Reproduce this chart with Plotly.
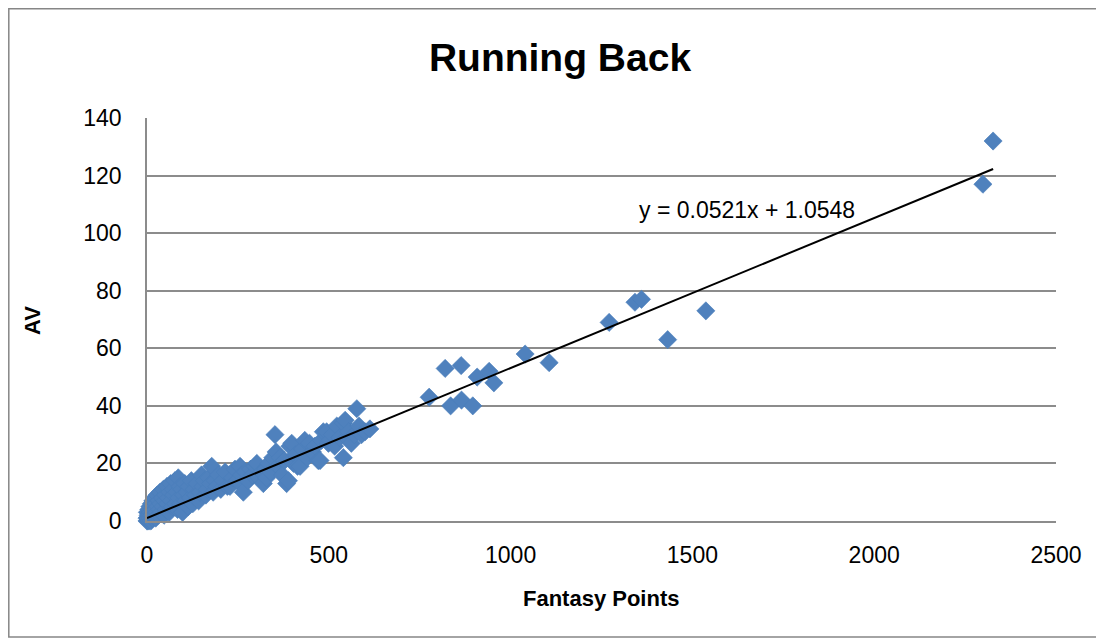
import plotly.graph_objects as go

# ---- data ----
fantasy_points = [
    0, 0, 1, 2, 3, 4, 5, 6, 7, 8, 9, 10, 11, 12, 13, 14, 15, 16, 18, 19,
    20, 21, 23, 24, 25, 27, 28, 30, 31, 33, 35, 36, 38, 40, 42, 44, 45, 47, 49, 51,
    53, 55, 57, 59, 61, 63, 65, 67, 70, 72, 74, 77, 79, 82, 84, 86, 88, 91, 93, 96,
    98, 101, 104, 107, 110, 113, 116, 119, 122, 126, 130, 134, 138, 142, 146, 150, 154, 158, 162, 166,
    170, 175, 178, 182, 187, 192, 197, 203, 209, 215, 221, 228, 235, 242, 248, 256, 260, 265, 271, 278,
    285, 290, 297, 302, 308, 315, 320, 326, 329, 335, 340, 346, 352, 355, 360, 366, 372, 378, 384, 389,
    393, 398, 403, 408, 414, 421, 427, 434, 440, 447, 455, 462, 471, 476, 480, 485, 494, 499, 503, 510,
    516, 522, 530, 540, 540, 545, 549, 555, 562, 570, 577, 583, 590, 600, 613,
    776, 820, 835, 864, 865, 896, 908, 941, 954, 1040, 1106, 1271, 1342, 1360, 1432, 1537, 2299, 2327,
]
av = [
    0, 1, 3, 0, 2, 1, 4, 0, 2, 5, 1, 3, 0, 6, 2, 4, 1, 7, 3, 5,
    2, 8, 4, 1, 6, 3, 9, 5, 2, 7, 4, 10, 6, 3, 8, 5, 11, 2, 7, 9,
    4, 12, 6, 8, 3, 10, 13, 7, 5, 11, 9, 14, 6, 10, 4, 15, 8, 12, 6, 11,
    3, 9, 13, 7, 10, 5, 12, 8, 14, 6, 11, 9, 13, 7, 10, 16, 12, 14, 9, 11,
    15, 13, 19, 10, 14, 12, 16, 11, 14, 17, 12, 12, 15, 18, 14, 19, 16, 10, 17, 14,
    18, 16, 19, 20, 15, 17, 13, 18, 15, 20, 17, 22, 30, 24, 19, 22, 16, 21, 13, 14,
    26, 27, 20, 23, 19, 19, 25, 28, 22, 27, 24, 26, 21, 21, 28, 31, 31, 27, 28, 30,
    26, 33, 29, 22, 34, 35, 29, 31, 27, 30, 39, 33, 30, 31, 32,
    43, 53, 40, 54, 42, 40, 50, 52, 48, 58, 55, 69, 76, 77, 63, 73, 117, 132,
]

# trendline coefficients shown on the chart
slope = 0.0521
intercept = 1.0548
equation_text = "y = 0.0521x + 1.0548"

x_ticks = [0, 500, 1000, 1500, 2000, 2500]
y_ticks = [0, 20, 40, 60, 80, 100, 120, 140]

chart_title = "Running Back"
x_title = "Fantasy Points"
y_title = "AV"

FONT = "Liberation Sans"
GRID = "#8c8c8c"

# the page body has an 8px margin; figure is sized/positioned to compensate
OFF = 8
W, H = 1104 - OFF, 644 - OFF
L, T, R, B = 147 - OFF, 118 - OFF, 48, 123
PW, PH = W - L - R, H - T - B


def px_x(page_x):
    return (page_x - OFF - L) / PW


def px_y(page_y):
    return (H - B - (page_y - OFF)) / PH


x_min, x_max = min(fantasy_points), max(fantasy_points)

fig = go.Figure()
fig.add_trace(go.Scatter(
    x=fantasy_points, y=av, mode="markers",
    marker=dict(symbol="diamond", size=14, color="#4F81BD",
                line=dict(width=0.6, color="#4A7EBB")),
    cliponaxis=False, showlegend=False, hoverinfo="x+y",
))
fig.add_trace(go.Scatter(
    x=[x_min, x_max], y=[slope * x_min + intercept, slope * x_max + intercept],
    mode="lines", line=dict(color="black", width=2), showlegend=False,
    cliponaxis=False,
))

fig.update_layout(
    width=W, height=H,
    margin=dict(l=L, r=R, t=T, b=B),
    paper_bgcolor="white", plot_bgcolor="white",
    font=dict(family=FONT, color="black"),
    title=dict(text="<b>" + chart_title + "</b>", x=px_x(560), xref="paper",
               xanchor="center", y=1 - (57 - OFF) / H, yref="container", yanchor="middle",
               font=dict(size=39, family=FONT, color="black")),
    xaxis=dict(range=[0, 2500], tickvals=x_ticks, ticktext=[str(v) for v in x_ticks],
               showgrid=False, zeroline=False, showline=True, linecolor=GRID, linewidth=1.5,
               ticks="", tickfont=dict(size=23, family=FONT, color="black"),
               ticklabelstandoff=13),
    yaxis=dict(range=[0, 140], tickvals=y_ticks, ticktext=[str(v) for v in y_ticks],
               showgrid=True, gridcolor=GRID, gridwidth=1.5, zeroline=False,
               showline=True, linecolor=GRID, linewidth=1.5,
               ticks="", tickfont=dict(size=23, family=FONT, color="black"),
               ticklabelstandoff=19),
)

fig.add_annotation(text="<b>" + x_title + "</b>", xref="paper", yref="paper",
                   x=px_x(601), y=px_y(598), showarrow=False,
                   xanchor="center", yanchor="middle",
                   font=dict(size=22, family=FONT, color="black"))
fig.add_annotation(text="<b>" + y_title + "</b>", xref="paper", yref="paper",
                   x=px_x(32), y=px_y(321), showarrow=False,
                   textangle=-90, xanchor="center", yanchor="middle",
                   font=dict(size=22, family=FONT, color="black"))
fig.add_annotation(text=equation_text, xref="x", yref="y",
                   x=1650, y=108, showarrow=False, xanchor="center", yanchor="middle",
                   font=dict(size=23, family=FONT, color="black"))

# outer chart border
fig.add_shape(type="rect", xref="paper", yref="paper",
              x0=px_x(8.8), x1=px_x(1097),
              y0=px_y(637), y1=px_y(8.8),
              line=dict(color="#868686", width=1.5), fillcolor="rgba(0,0,0,0)",
              layer="below")

fig.write_html("out.html")
